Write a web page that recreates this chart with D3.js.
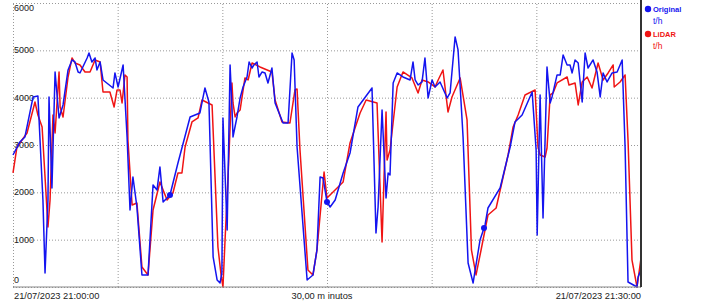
<html>
  <head>
    <script src="https://cdnjs.cloudflare.com/ajax/libs/d3/7.8.5/d3.min.js"></script>
    <style>
    body { margin: 0; background: white; }
    svg { font-family: "Liberation Sans", Arial, sans-serif; }
    .grid line { stroke: #999; stroke-dasharray: 1,2; }
    .grid path { display: none; }
    .ylab { font-size: 9px; fill: #222; }
    .xlab { font-size: 9.3px; fill: #222; }
    </style>
  </head>
  <body>
    <svg width="702" height="303" id="chart"></svg>
    <script>
    // minutes after 21:00:00, t/h
    var original = [
      [0.00,2789],[0.33,3064],[0.57,3170],[0.96,4015],[1.19,4036],[1.43,1838],[1.53,296],
      [1.67,1838],[1.72,4015],[1.86,2092],[2.01,4543],[2.20,3571],[2.39,3846],[2.63,4585],
      [2.82,4797],[2.96,4754],[3.11,4543],[3.20,4522],[3.54,4839],[3.63,4944],[3.77,4754],
      [3.92,4839],[4.01,4585],[4.16,4754],[4.30,4374],[4.78,4205],[4.87,4522],[5.02,4226],
      [5.26,4691],[5.45,3170],[5.59,1627],[5.73,2324],[5.92,1690],[6.16,254],[6.45,254],
      [6.69,2155],[6.88,2050],[7.02,2536],[7.17,1796],[7.50,1944],[7.88,2620],[8.46,3592],
      [8.93,3677],[9.17,4205],[9.36,3909],[9.56,634],[9.75,148],[9.89,85],[9.98,296],
      [10.03,3571],[10.23,1205],[10.37,4690],[10.46,3803],[10.51,3170],[10.70,3592],
      [10.85,3994],[10.99,4226],[11.18,4437],[11.28,4754],[11.42,4627],[11.51,4691],
      [11.66,4754],[11.75,4437],
      [11.90,4543],[12.04,4522],[12.18,4311],[12.37,4627],[12.52,3888],[12.90,3465],
      [13.14,3465],[13.33,4944],[13.43,4797],[13.57,2958],[14.05,148],[14.33,254],
      [14.52,782],[14.67,2324],[14.81,2303],[15.00,1796],[15.15,1690],[15.39,1838],
      [15.77,2409],[16.10,2831],[16.48,3803],[17.15,4205],[17.34,1141],[17.44,1690],
      [17.63,3740],[17.82,1881],[17.92,2409],[18.01,2367],[18.16,4311],[18.35,4522],
      [18.63,4437],[18.97,4374],[19.11,4754],[19.21,4374],[19.35,4268],[19.54,4332],
      [19.68,4839],[19.83,3994],[20.02,4374],[20.16,4226],[20.40,4332],[20.74,3994],
      [20.88,4099],[21.12,5283],[21.26,5008],[21.50,3170],[21.74,507],[21.98,85],
      [22.31,993],[22.55,1310],[22.69,1669],[23.27,2092],[23.75,2958],[23.98,3486],
      [24.32,3634],[24.80,4120],[24.99,2895],[25.04,1099],[25.18,4057],[25.32,1458],
      [25.51,4649],[25.66,3888],[25.75,4015],[25.99,4480],[26.14,4480],[26.28,4902],
      [26.47,4691],[26.61,4691],[26.71,4522],[26.85,4797],[27.00,4733],[27.19,3909],
      [27.33,4944],[27.47,4627],[27.71,4797],[27.90,4543],[28.05,4015],[28.19,4522],
      [28.38,4332],[28.62,4522],[28.86,4543],[29.10,4797],[29.24,2958],[29.38,106],
      [29.81,0],[29.86,211],[30.00,359]
    ];
    var lidar = [
      [0.00,2409],[0.19,2958],[0.67,3254],[1.05,3909],[1.19,3634],[1.39,3381],[1.67,1268],
      [1.77,1838],[1.91,3634],[2.01,3254],[2.20,4543],[2.25,3803],[2.39,3592],[2.63,4437],
      [2.82,4839],[2.96,4733],[3.20,4691],[3.44,4543],[3.68,4543],[3.92,4797],[4.16,4754],
      [4.30,4120],[4.63,4120],[4.83,3803],[4.97,4163],[5.11,4163],[5.21,3888],[5.35,4480],
      [5.45,4437],[5.49,3106],[5.69,1733],[5.92,1775],[6.16,423],[6.45,254],[6.69,1627],
      [7.02,2219],[7.36,1838],[7.64,1986],[7.88,2409],[8.07,2409],[8.22,2958],[8.55,3486],
      [8.84,3571],[9.03,3951],[9.51,3846],[9.79,845],[9.94,254],[10.03,0],[10.13,993],
      [10.27,2303],[10.46,4311],[10.51,3888],[10.61,3592],[10.70,3677],[10.85,3740],
      [11.08,4416],[11.23,4374],
      [11.42,4733],[11.80,4649],[12.37,4543],[12.52,3951],[12.85,3486],[13.23,3465],
      [13.47,4163],[13.57,4184],[13.71,2895],[14.09,359],[14.33,254],[14.52,782],
      [14.86,2430],[15.00,1881],[15.77,2219],[16.10,3043],[16.58,3677],[16.87,3951],
      [17.39,3888],[17.63,950],[17.82,3698],[17.87,2683],[18.01,2895],[18.35,4226],
      [18.63,4543],[19.06,4416],[19.35,4099],[19.54,4374],[19.83,4332],[20.16,4226],
      [20.31,4374],[20.54,4585],[20.78,3698],[20.97,4015],[21.36,4416],[21.69,3529],
      [21.90,782],[22.12,254],[22.36,782],[22.69,1521],[23.08,1669],[23.65,2789],
      [23.89,3381],[24.13,3634],[24.46,4057],[24.94,4163],[25.08,2958],[25.18,2789],
      [25.42,2747],[25.51,2937],[25.66,4057],[25.80,4099],[25.99,4311],[26.47,4437],
      [26.56,4268],[26.85,4311],[27.00,3846],[27.19,4332],[27.43,4437],[27.66,4205],
      [27.95,4733],[28.19,4374],[28.43,4522],[28.67,4691],[28.72,4226],[29.00,4332],
      [29.24,4480],[29.38,3106],[29.57,570],[29.81,0],[30.00,613]
    ];
    var markerTimes = [7.5, 15, 22.5];
    var yTicks = [0, 1000, 2000, 3000, 4000, 5000, 6000];
    var xTicks = [0, 5, 10, 15, 20, 25, 30];
    var xLabels = ['21/07/2023 21:00:00', '30,00 m inutos', '21/07/2023 21:30:00'];
    var series = [
      {name: 'Original', unit: 't/h', color: '#1414f0', data: original},
      {name: 'LiDAR', unit: 't/h', color: '#f01414', data: lidar}
    ];

    var svg = d3.select('#chart');
    var pLeft = 13, pRight = 641, pTop = 3, pBottom = 287;

    var x = d3.scaleLinear().domain([0, 30]).range([pLeft, pRight]);
    var y = d3.scaleLinear().domain([0, 6000]).range([pBottom, pTop]);

    // grid
    svg.append('g')
      .attr('class', 'grid')
      .attr('transform', 'translate(0,' + pBottom + ')')
      .call(d3.axisBottom(x).tickValues(xTicks).tickSize(-(pBottom - pTop)).tickFormat(''));
    svg.append('g')
      .attr('class', 'grid')
      .attr('transform', 'translate(' + pLeft + ',0)')
      .call(d3.axisLeft(y).tickValues(yTicks).tickSize(-(pRight - pLeft)).tickFormat(''));

    // y labels inside the plot
    svg.selectAll('.ylab')
      .data(yTicks)
      .enter()
      .append('text')
      .attr('class', 'ylab')
      .attr('x', pLeft + 1)
      .attr('y', function(d) {
        if (d === 6000) return y(d) + 8;
        if (d === 0) return y(d) - 4;
        return y(d) + 3;
      })
      .text(function(d) { return d; });

    var line = d3.line()
      .x(function(d) { return x(d[0]); })
      .y(function(d) { return y(d[1]); });

    svg.selectAll('.series')
      .data(series.slice().reverse())
      .enter()
      .append('path')
      .attr('d', function(d) { return line(d.data); })
      .attr('fill', 'none')
      .attr('stroke', function(d) { return d.color; })
      .attr('stroke-width', 1.5)
      .attr('stroke-linejoin', 'round');

    // markers on original
    var bis = d3.bisector(function(d) { return d[0]; }).left;
    function valueAt(data, t) {
      var i = bis(data, t);
      if (i <= 0) return data[0][1];
      var a = data[i - 1], b = data[i];
      return a[1] + (b[1] - a[1]) * (t - a[0]) / (b[0] - a[0]);
    }
    svg.selectAll('.mark')
      .data(markerTimes)
      .enter()
      .append('circle')
      .attr('cx', function(d) { return x(d); })
      .attr('cy', function(d) { return y(valueAt(original, d)); })
      .attr('r', 3)
      .attr('fill', series[0].color);

    // axes frame
    svg.append('line')
      .attr('x1', pLeft).attr('x2', pRight)
      .attr('y1', pBottom).attr('y2', pBottom)
      .attr('stroke', '#888').attr('stroke-width', 1);
    svg.append('line')
      .attr('x1', pRight).attr('x2', pRight)
      .attr('y1', 0).attr('y2', pBottom)
      .attr('stroke', '#333').attr('stroke-width', 2);

    // x labels
    svg.append('text').attr('class', 'xlab')
      .attr('x', pLeft + 1).attr('y', 299).text(xLabels[0]);
    svg.append('text').attr('class', 'xlab')
      .attr('x', x(15) - 5).attr('y', 299).attr('text-anchor', 'middle').text(xLabels[1]);
    svg.append('text').attr('class', 'xlab')
      .attr('x', pRight).attr('y', 299).attr('text-anchor', 'end').text(xLabels[2]);

    // legend
    var legend = svg.selectAll('.legend')
      .data(series)
      .enter()
      .append('g')
      .attr('transform', function(d, i) { return 'translate(648,' + (9 + i * 25) + ')'; });
    legend.append('circle').attr('r', 3.2).attr('fill', function(d) { return d.color; });
    legend.append('text')
      .attr('x', 5).attr('y', 2.6)
      .style('font-size', '7.5px').style('font-weight', 'bold')
      .attr('fill', function(d) { return d.color; })
      .text(function(d) { return d.name; });
    legend.append('text')
      .attr('x', 5).attr('y', 15)
      .style('font-size', '8.5px')
      .attr('fill', function(d) { return d.color; })
      .text(function(d) { return d.unit; });
    </script>
  </body>
</html>
